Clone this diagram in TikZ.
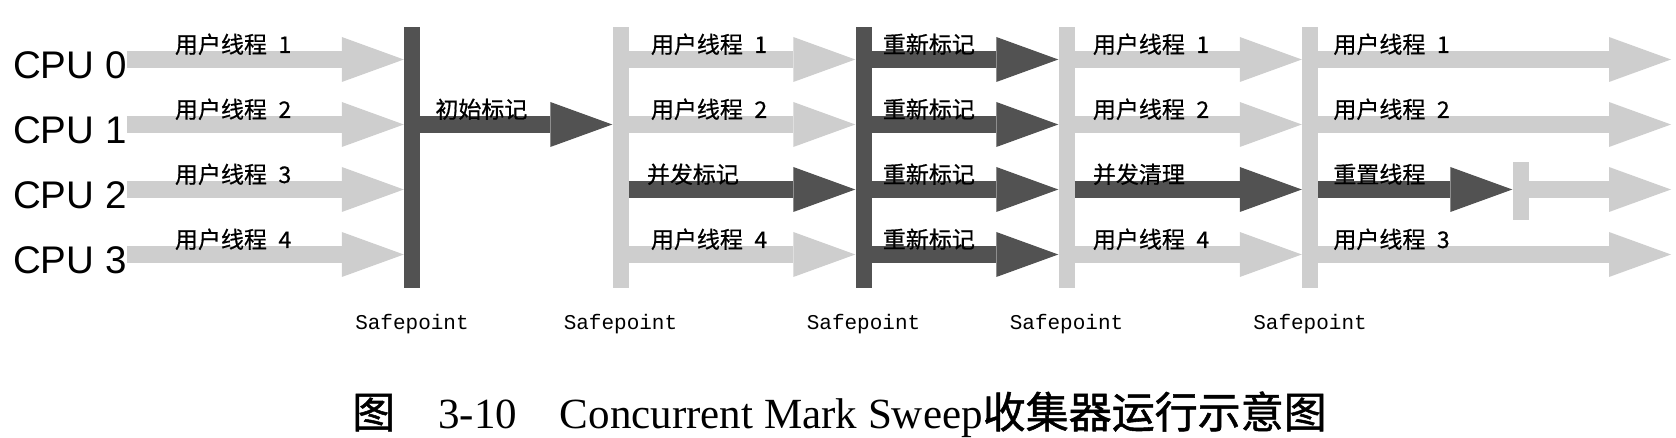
\documentclass[tikz,border=0pt]{standalone}
\usepackage{fontspec}
\setmainfont{Liberation Serif}
\setsansfont{Liberation Sans}
\newfontfamily\cjk{Noto Sans CJK SC}[FakeBold=0.6]
\newfontfamily\capcjk{Noto Sans CJK SC}[FakeBold=1.2]
\newfontfamily\spfont{Liberation Mono}
\usepackage{tikz}
\usetikzlibrary{arrows.meta, positioning, calc}

\definecolor{lightgc}{RGB}{206,206,206}
\definecolor{darkgc}{RGB}{82,82,82}

\newcommand{\ut}[1]{用户线程\enspace #1}

\begin{document}
\begin{tikzpicture}[x=1pt, y=-1pt,
    thread/.style={draw=lightgc, line width=17pt, -{Triangle[length=62pt, width=45pt, line width=0pt]}},
    gcwork/.style={thread, draw=darkgc},
    spbar/.style={rectangle, inner sep=0pt, minimum width=16pt, minimum height=261pt},
    cpu/.style={font=\sffamily\fontsize{38.5pt}{38.5pt}\selectfont, inner sep=0pt, anchor=west},
    lbl/.style={font=\cjk\fontsize{23pt}{23pt}\selectfont, inner sep=0pt, anchor=base west},
    sp/.style={font=\spfont\fontsize{21pt}{21pt}\selectfont, inner sep=0pt, anchor=base}
]
    \useasboundingbox (0,0) rectangle (1676,438);

    % Rows and CPUs
    \foreach \i in {0,...,3} {
        \coordinate (r\i) at (0,59.5+65*\i);
        \node[cpu] (cpu\i) at (13,65+65*\i) {CPU \i};
    }
    \coordinate (spline) at (0,330);
    \coordinate (end) at (1671,0);

    % Safepoints
    \node[spbar, fill=darkgc] (sp1) at (412,157.5) {};
    \node[spbar, fill=lightgc] (sp2) at (620.5,157.5) {};
    \node[spbar, fill=darkgc] (sp3) at (863.5,157.5) {};
    \node[spbar, fill=lightgc] (sp4) at (1066.5,157.5) {};
    \node[spbar, fill=lightgc] (sp5) at (1310,157.5) {};
    \node[spbar, fill=lightgc, minimum height=58pt] (reset) at (1520.5,191) {};
    \foreach \b in {1,...,5}
        \node[sp] (spl\b) at (sp\b |- spline) {Safepoint};

    % Before the first safepoint
    \foreach \i/\t in {0/1,1/2,2/3,3/4} {
        \draw[thread] (cpu\i.east |- r\i) -- (sp1.west |- r\i);
        \node[lbl] (a\i) at ($(cpu\i.east |- r\i)+(48,-6.5)$) {\ut{\t}};
    }

    % Initial mark
    \draw[gcwork] (sp1.east |- r1) -- (sp2.west |- r1);
    \node[lbl] (init) at ($(sp1.east |- r1)+(15,-6.5)$) {初始标记};

    % Concurrent mark
    \foreach \i/\t in {0/1,1/2,3/4} {
        \draw[thread] (sp2.east |- r\i) -- (sp3.west |- r\i);
        \node[lbl] (b\i) at ($(sp2.east |- r\i)+(22,-6.5)$) {\ut{\t}};
    }
    \draw[gcwork] (sp2.east |- r2) -- (sp3.west |- r2);
    \node[lbl] (b2) at ($(sp2.east |- r2)+(18,-6.5)$) {并发标记};

    % Remark
    \foreach \i in {0,...,3} {
        \draw[gcwork] (sp3.east |- r\i) -- (sp4.west |- r\i);
        \node[lbl] (c\i) at ($(sp3.east |- r\i)+(11,-6.5)$) {重新标记};
    }

    % Concurrent sweep
    \foreach \i/\t in {0/1,1/2,3/4} {
        \draw[thread] (sp4.east |- r\i) -- (sp5.west |- r\i);
        \node[lbl] (d\i) at ($(sp4.east |- r\i)+(18,-6.5)$) {\ut{\t}};
    }
    \draw[gcwork] (sp4.east |- r2) -- (sp5.west |- r2);
    \node[lbl] (d2) at ($(sp4.east |- r2)+(18,-6.5)$) {并发清理};

    % Concurrent reset
    \foreach \i/\t in {0/1,1/2,3/3} {
        \draw[thread] (sp5.east |- r\i) -- (end |- r\i);
        \node[lbl] (e\i) at ($(sp5.east |- r\i)+(15,-6.5)$) {\ut{\t}};
    }
    \draw[gcwork] (sp5.east |- r2) -- (reset.west |- r2);
    \draw[thread] (reset.east |- r2) -- (end |- r2);
    \node[lbl] (e2) at ($(sp5.east |- r2)+(15,-6.5)$) {重置线程};

    % Caption
    \node[font=\fontsize{43pt}{43pt}\selectfont, inner sep=0pt, anchor=base west] (cap) at (352,428)
        {{\capcjk 图}\hspace{1em}3-10\hspace{1em}Concurrent Mark Sweep{\capcjk 收集器运行示意图}};
\end{tikzpicture}
\end{document}
